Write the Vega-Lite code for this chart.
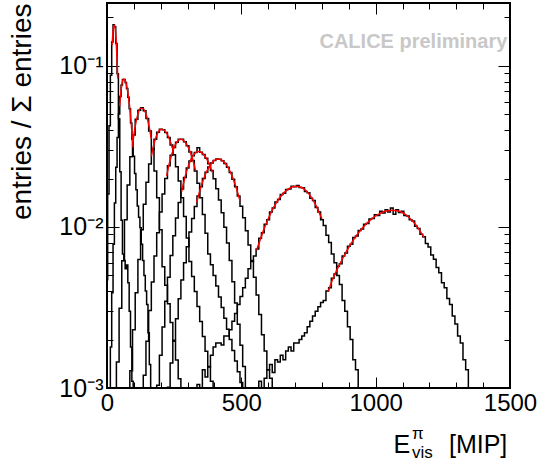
{
"$schema": "https://vega.github.io/schema/vega-lite/v6.json",
"width": 403,
"height": 385,
"autosize": {"type": "none"},
"padding": {"left": 107, "top": 3, "right": 33, "bottom": 74},
"background": "white",
"config": {"font": "Liberation Sans", "view": {"stroke": "black", "strokeWidth": 2}},
"datasets": {
"hist": [
{"h":1,"x":0,"y":0.0047},{"h":1,"x":5,"y":0.016},{"h":1,"x":10,"y":0.0425},{"h":1,"x":15,"y":0.0875},{"h":1,"x":20,"y":0.141},{"h":1,"x":25,"y":0.18},{"h":1,"x":30,"y":0.175},{"h":1,"x":35,"y":0.138},{"h":1,"x":40,"y":0.0895},{"h":1,"x":45,"y":0.047},{"h":1,"x":50,"y":0.022},{"h":1,"x":55,"y":0.011},{"h":1,"x":60,"y":0.0068},{"h":1,"x":65,"y":0.0062},{"h":1,"x":70,"y":0.0055},{"h":1,"x":75,"y":0.0058},{"h":1,"x":80,"y":0.0045},{"h":1,"x":85,"y":0.003},{"h":1,"x":90,"y":0.0018},{"h":1,"x":95,"y":0.0011},{"h":1,"x":100,"y":0.0004},
{"h":2,"x":5,"y":0.0004},{"h":2,"x":10,"y":0.0008},{"h":2,"x":15,"y":0.0018},{"h":2,"x":20,"y":0.0039},{"h":2,"x":25,"y":0.0078},{"h":2,"x":30,"y":0.0141},{"h":2,"x":35,"y":0.0235},{"h":2,"x":40,"y":0.0359},{"h":2,"x":45,"y":0.0503},{"h":2,"x":50,"y":0.0647},{"h":2,"x":55,"y":0.0762},{"h":2,"x":60,"y":0.0825},{"h":2,"x":65,"y":0.0824},{"h":2,"x":70,"y":0.0788},{"h":2,"x":75,"y":0.0725},{"h":2,"x":80,"y":0.064},{"h":2,"x":85,"y":0.0543},{"h":2,"x":90,"y":0.0443},{"h":2,"x":95,"y":0.035},{"h":2,"x":100,"y":0.0275},{"h":2,"x":105,"y":0.0215},{"h":2,"x":110,"y":0.017},{"h":2,"x":115,"y":0.0135},{"h":2,"x":120,"y":0.0115},{"h":2,"x":125,"y":0.0099},{"h":2,"x":130,"y":0.0078},{"h":2,"x":135,"y":0.0062},{"h":2,"x":140,"y":0.005},{"h":2,"x":145,"y":0.004},{"h":2,"x":150,"y":0.0033},{"h":2,"x":155,"y":0.0022},{"h":2,"x":160,"y":0.0014},{"h":2,"x":165,"y":0.0009},{"h":2,"x":170,"y":0.0004},
{"h":3,"x":30,"y":0.0004},{"h":3,"x":40,"y":0.00145},{"h":3,"x":50,"y":0.00313},{"h":3,"x":60,"y":0.00618},{"h":3,"x":70,"y":0.0111},{"h":3,"x":80,"y":0.0182},{"h":3,"x":90,"y":0.0273},{"h":3,"x":100,"y":0.0373},{"h":3,"x":110,"y":0.0466},{"h":3,"x":120,"y":0.053},{"h":3,"x":130,"y":0.055},{"h":3,"x":140,"y":0.0527},{"h":3,"x":150,"y":0.0472},{"h":3,"x":160,"y":0.0394},{"h":3,"x":170,"y":0.0307},{"h":3,"x":180,"y":0.0223},{"h":3,"x":190,"y":0.0152},{"h":3,"x":200,"y":0.0096},{"h":3,"x":210,"y":0.00567},{"h":3,"x":220,"y":0.00434},{"h":3,"x":230,"y":0.00333},{"h":3,"x":240,"y":0.00255},{"h":3,"x":250,"y":0.00195},{"h":3,"x":260,"y":0.00149},{"h":3,"x":270,"y":0.00114},{"h":3,"x":280,"y":0.0004},
{"h":4,"x":80,"y":0.0004},{"h":4,"x":90,"y":0.00128},{"h":4,"x":100,"y":0.0023},{"h":4,"x":110,"y":0.0039},{"h":4,"x":120,"y":0.00629},{"h":4,"x":130,"y":0.0096},{"h":4,"x":140,"y":0.01385},{"h":4,"x":150,"y":0.01895},{"h":4,"x":160,"y":0.0246},{"h":4,"x":170,"y":0.0302},{"h":4,"x":180,"y":0.0351},{"h":4,"x":190,"y":0.0387},{"h":4,"x":200,"y":0.0404},{"h":4,"x":210,"y":0.0402},{"h":4,"x":220,"y":0.0386},{"h":4,"x":230,"y":0.0359},{"h":4,"x":240,"y":0.0323},{"h":4,"x":250,"y":0.0281},{"h":4,"x":260,"y":0.0237},{"h":4,"x":270,"y":0.0193},{"h":4,"x":280,"y":0.0152},{"h":4,"x":290,"y":0.0116},{"h":4,"x":300,"y":0.00855},{"h":4,"x":310,"y":0.0061},{"h":4,"x":320,"y":0.00493},{"h":4,"x":330,"y":0.00398},{"h":4,"x":340,"y":0.00321},{"h":4,"x":350,"y":0.00259},{"h":4,"x":360,"y":0.00209},{"h":4,"x":370,"y":0.00169},{"h":4,"x":380,"y":0.00136},{"h":4,"x":390,"y":0.0011},{"h":4,"x":400,"y":0.0004},
{"h":5,"x":120,"y":0.0004},{"h":5,"x":130,"y":0.00072},{"h":5,"x":140,"y":0.0012},{"h":5,"x":150,"y":0.00195},{"h":5,"x":160,"y":0.00303},{"h":5,"x":170,"y":0.00456},{"h":5,"x":180,"y":0.0066},{"h":5,"x":190,"y":0.0092},{"h":5,"x":200,"y":0.01237},{"h":5,"x":210,"y":0.016},{"h":5,"x":220,"y":0.02},{"h":5,"x":230,"y":0.024},{"h":5,"x":240,"y":0.0279},{"h":5,"x":250,"y":0.0312},{"h":5,"x":260,"y":0.0336},{"h":5,"x":270,"y":0.035},{"h":5,"x":280,"y":0.035},{"h":5,"x":290,"y":0.0338},{"h":5,"x":300,"y":0.0319},{"h":5,"x":310,"y":0.0292},{"h":5,"x":320,"y":0.0259},{"h":5,"x":330,"y":0.0223},{"h":5,"x":340,"y":0.0187},{"h":5,"x":350,"y":0.0152},{"h":5,"x":360,"y":0.01196},{"h":5,"x":370,"y":0.00915},{"h":5,"x":380,"y":0.0068},{"h":5,"x":390,"y":0.00583},{"h":5,"x":400,"y":0.005},{"h":5,"x":410,"y":0.0043},{"h":5,"x":420,"y":0.00368},{"h":5,"x":430,"y":0.00316},{"h":5,"x":440,"y":0.00271},{"h":5,"x":450,"y":0.00232},{"h":5,"x":460,"y":0.002},{"h":5,"x":470,"y":0.00171},{"h":5,"x":480,"y":0.00147},{"h":5,"x":490,"y":0.00126},{"h":5,"x":500,"y":0.00108},{"h":5,"x":510,"y":0.0004},
{"h":6,"x":170,"y":0.0004},{"h":6,"x":180,"y":0.00065},{"h":6,"x":190,"y":0.00104},{"h":6,"x":200,"y":0.0016},{"h":6,"x":210,"y":0.00239},{"h":6,"x":220,"y":0.00346},{"h":6,"x":230,"y":0.00487},{"h":6,"x":240,"y":0.00665},{"h":6,"x":250,"y":0.00882},{"h":6,"x":260,"y":0.01136},{"h":6,"x":270,"y":0.0142},{"h":6,"x":280,"y":0.0172},{"h":6,"x":290,"y":0.0203},{"h":6,"x":300,"y":0.0232},{"h":6,"x":310,"y":0.0257},{"h":6,"x":320,"y":0.0277},{"h":6,"x":330,"y":0.029},{"h":6,"x":340,"y":0.031},{"h":6,"x":350,"y":0.0291},{"h":6,"x":360,"y":0.0282},{"h":6,"x":370,"y":0.0267},{"h":6,"x":380,"y":0.0247},{"h":6,"x":390,"y":0.0224},{"h":6,"x":400,"y":0.0199},{"h":6,"x":410,"y":0.0173},{"h":6,"x":420,"y":0.0147},{"h":6,"x":430,"y":0.01225},{"h":6,"x":440,"y":0.00997},{"h":6,"x":450,"y":0.00795},{"h":6,"x":460,"y":0.0062},{"h":6,"x":470,"y":0.00457},{"h":6,"x":480,"y":0.00337},{"h":6,"x":490,"y":0.00249},{"h":6,"x":500,"y":0.00184},{"h":6,"x":510,"y":0.00136},{"h":6,"x":520,"y":0.001},{"h":6,"x":530,"y":0.0004},
{"h":7,"x":210,"y":0.0004},{"h":7,"x":220,"y":0.0007},{"h":7,"x":230,"y":0.00101},{"h":7,"x":240,"y":0.00143},{"h":7,"x":250,"y":0.00198},{"h":7,"x":260,"y":0.00269},{"h":7,"x":270,"y":0.00358},{"h":7,"x":280,"y":0.00468},{"h":7,"x":290,"y":0.006},{"h":7,"x":300,"y":0.00755},{"h":7,"x":310,"y":0.0093},{"h":7,"x":320,"y":0.01127},{"h":7,"x":330,"y":0.0134},{"h":7,"x":340,"y":0.0156},{"h":7,"x":350,"y":0.0178},{"h":7,"x":360,"y":0.02},{"h":7,"x":370,"y":0.0219},{"h":7,"x":380,"y":0.0236},{"h":7,"x":390,"y":0.025},{"h":7,"x":400,"y":0.0259},{"h":7,"x":410,"y":0.0264},{"h":7,"x":420,"y":0.0263},{"h":7,"x":430,"y":0.0258},{"h":7,"x":440,"y":0.0248},{"h":7,"x":450,"y":0.0235},{"h":7,"x":460,"y":0.0218},{"h":7,"x":470,"y":0.0198},{"h":7,"x":480,"y":0.01776},{"h":7,"x":490,"y":0.0156},{"h":7,"x":500,"y":0.01345},{"h":7,"x":510,"y":0.0114},{"h":7,"x":520,"y":0.00947},{"h":7,"x":530,"y":0.00774},{"h":7,"x":540,"y":0.0062},{"h":7,"x":550,"y":0.00488},{"h":7,"x":560,"y":0.00378},{"h":7,"x":570,"y":0.00286},{"h":7,"x":580,"y":0.00214},{"h":7,"x":590,"y":0.0017},{"h":7,"x":600,"y":0.0013},{"h":7,"x":610,"y":0.00115},{"h":7,"x":620,"y":0.0009},{"h":7,"x":630,"y":0.0004},
{"h":8,"x":330,"y":0.0004},{"h":8,"x":340,"y":0.00105},{"h":8,"x":350,"y":0.00098},{"h":8,"x":360,"y":0.0013},{"h":8,"x":370,"y":0.00117},{"h":8,"x":380,"y":0.00135},{"h":8,"x":390,"y":0.0016},{"h":8,"x":400,"y":0.0018},{"h":8,"x":410,"y":0.0019},{"h":8,"x":420,"y":0.0019},{"h":8,"x":430,"y":0.00185},{"h":8,"x":440,"y":0.0021},{"h":8,"x":450,"y":0.0021},{"h":8,"x":460,"y":0.0023},{"h":8,"x":470,"y":0.0026},{"h":8,"x":480,"y":0.0029},{"h":8,"x":490,"y":0.0033},{"h":8,"x":500,"y":0.0037},{"h":8,"x":510,"y":0.0042},{"h":8,"x":520,"y":0.0048},{"h":8,"x":530,"y":0.0055},{"h":8,"x":540,"y":0.0061},{"h":8,"x":550,"y":0.0066},{"h":8,"x":560,"y":0.0073},{"h":8,"x":570,"y":0.0085},{"h":8,"x":580,"y":0.0092},{"h":8,"x":590,"y":0.0104},{"h":8,"x":600,"y":0.0111},{"h":8,"x":610,"y":0.0124},{"h":8,"x":620,"y":0.0131},{"h":8,"x":630,"y":0.0143},{"h":8,"x":640,"y":0.0148},{"h":8,"x":650,"y":0.0159},{"h":8,"x":660,"y":0.0162},{"h":8,"x":670,"y":0.0171},{"h":8,"x":680,"y":0.0172},{"h":8,"x":690,"y":0.0179},{"h":8,"x":700,"y":0.0178},{"h":8,"x":710,"y":0.0181},{"h":8,"x":720,"y":0.0176},{"h":8,"x":730,"y":0.0175},{"h":8,"x":740,"y":0.0166},{"h":8,"x":750,"y":0.0163},{"h":8,"x":760,"y":0.0151},{"h":8,"x":770,"y":0.0146},{"h":8,"x":780,"y":0.0132},{"h":8,"x":790,"y":0.0124},{"h":8,"x":800,"y":0.0111},{"h":8,"x":810,"y":0.0102},{"h":8,"x":820,"y":0.0089},{"h":8,"x":830,"y":0.008},{"h":8,"x":840,"y":0.0068},{"h":8,"x":850,"y":0.006},{"h":8,"x":860,"y":0.005},{"h":8,"x":870,"y":0.0044},{"h":8,"x":880,"y":0.0035},{"h":8,"x":890,"y":0.003},{"h":8,"x":900,"y":0.0024},{"h":8,"x":910,"y":0.002},{"h":8,"x":920,"y":0.0015},{"h":8,"x":930,"y":0.0013},{"h":8,"x":940,"y":0.00095},{"h":8,"x":950,"y":0.0004},
{"h":9,"x":560,"y":0.0004},{"h":9,"x":570,"y":0.0011},{"h":9,"x":580,"y":0.0009},{"h":9,"x":590,"y":0.00115},{"h":9,"x":600,"y":0.0013},{"h":9,"x":610,"y":0.0014},{"h":9,"x":620,"y":0.00125},{"h":9,"x":630,"y":0.0015},{"h":9,"x":640,"y":0.00145},{"h":9,"x":650,"y":0.0016},{"h":9,"x":660,"y":0.0015},{"h":9,"x":670,"y":0.0017},{"h":9,"x":680,"y":0.0018},{"h":9,"x":690,"y":0.0017},{"h":9,"x":700,"y":0.0019},{"h":9,"x":710,"y":0.0019},{"h":9,"x":720,"y":0.002},{"h":9,"x":730,"y":0.0021},{"h":9,"x":740,"y":0.0022},{"h":9,"x":750,"y":0.0024},{"h":9,"x":760,"y":0.0026},{"h":9,"x":770,"y":0.0028},{"h":9,"x":780,"y":0.003},{"h":9,"x":790,"y":0.0032},{"h":9,"x":800,"y":0.0034},{"h":9,"x":810,"y":0.0035},{"h":9,"x":820,"y":0.004},{"h":9,"x":830,"y":0.0042},{"h":9,"x":840,"y":0.0048},{"h":9,"x":850,"y":0.0051},{"h":9,"x":860,"y":0.0057},{"h":9,"x":870,"y":0.0059},{"h":9,"x":880,"y":0.0066},{"h":9,"x":890,"y":0.0069},{"h":9,"x":900,"y":0.0076},{"h":9,"x":910,"y":0.0078},{"h":9,"x":920,"y":0.0086},{"h":9,"x":930,"y":0.0088},{"h":9,"x":940,"y":0.0095},{"h":9,"x":950,"y":0.0097},{"h":9,"x":960,"y":0.0104},{"h":9,"x":970,"y":0.0105},{"h":9,"x":980,"y":0.0112},{"h":9,"x":990,"y":0.0113},{"h":9,"x":1000,"y":0.0119},{"h":9,"x":1010,"y":0.0118},{"h":9,"x":1020,"y":0.0125},{"h":9,"x":1030,"y":0.0122},{"h":9,"x":1040,"y":0.0128},{"h":9,"x":1050,"y":0.0124},{"h":9,"x":1060,"y":0.0131},{"h":9,"x":1070,"y":0.012},{"h":9,"x":1080,"y":0.0128},{"h":9,"x":1090,"y":0.0123},{"h":9,"x":1100,"y":0.0125},{"h":9,"x":1110,"y":0.0118},{"h":9,"x":1120,"y":0.0117},{"h":9,"x":1130,"y":0.0111},{"h":9,"x":1140,"y":0.0109},{"h":9,"x":1150,"y":0.0101},{"h":9,"x":1160,"y":0.0098},{"h":9,"x":1170,"y":0.009},{"h":9,"x":1180,"y":0.0087},{"h":9,"x":1190,"y":0.0079},{"h":9,"x":1200,"y":0.0075},{"h":9,"x":1210,"y":0.0067},{"h":9,"x":1220,"y":0.0063},{"h":9,"x":1230,"y":0.0056},{"h":9,"x":1240,"y":0.0052},{"h":9,"x":1250,"y":0.0045},{"h":9,"x":1260,"y":0.0042},{"h":9,"x":1270,"y":0.0036},{"h":9,"x":1280,"y":0.0033},{"h":9,"x":1290,"y":0.0028},{"h":9,"x":1300,"y":0.0025},{"h":9,"x":1310,"y":0.0021},{"h":9,"x":1320,"y":0.0019},{"h":9,"x":1330,"y":0.0015},{"h":9,"x":1340,"y":0.0013},{"h":9,"x":1350,"y":0.0004}
],
"fit": [
{"f":1,"x":19,"y":0.1346},{"f":1,"x":22,"y":0.1607},{"f":1,"x":25,"y":0.1767},{"f":1,"x":28,"y":0.1792},{"f":1,"x":31,"y":0.1673},{"f":1,"x":34,"y":0.144},{"f":1,"x":37,"y":0.1143},{"f":1,"x":40,"y":0.0836},
{"f":2,"x":47,"y":0.0562},{"f":2,"x":52,"y":0.0698},{"f":2,"x":57,"y":0.0795},{"f":2,"x":62,"y":0.083},{"f":2,"x":67,"y":0.0813},{"f":2,"x":72,"y":0.0766},{"f":2,"x":77,"y":0.0693},{"f":2,"x":82,"y":0.0603},{"f":2,"x":87,"y":0.0503},{"f":2,"x":92,"y":0.0404},{"f":2,"x":97,"y":0.0311},
{"f":3,"x":95,"y":0.0323},{"f":3,"x":105,"y":0.0422},{"f":3,"x":115,"y":0.0502},{"f":3,"x":125,"y":0.0546},{"f":3,"x":135,"y":0.0543},{"f":3,"x":145,"y":0.0503},{"f":3,"x":155,"y":0.0435},{"f":3,"x":165,"y":0.0351},
{"f":4,"x":165,"y":0.0274},{"f":4,"x":175,"y":0.0328},{"f":4,"x":185,"y":0.0371},{"f":4,"x":195,"y":0.0398},{"f":4,"x":205,"y":0.0405},{"f":4,"x":215,"y":0.0396},{"f":4,"x":225,"y":0.0374},{"f":4,"x":235,"y":0.0342},{"f":4,"x":245,"y":0.0303},
{"f":5,"x":222,"y":0.0208},{"f":5,"x":235,"y":0.026},{"f":5,"x":248,"y":0.0306},{"f":5,"x":261,"y":0.0338},{"f":5,"x":275,"y":0.035},{"f":5,"x":290,"y":0.0338},{"f":5,"x":305,"y":0.0306},{"f":5,"x":318,"y":0.0266},{"f":5,"x":330,"y":0.0223},
{"f":6,"x":278,"y":0.0166},{"f":6,"x":290,"y":0.0203},{"f":6,"x":302,"y":0.0237},{"f":6,"x":315,"y":0.0268},{"f":6,"x":328,"y":0.0288},{"f":6,"x":340,"y":0.0294},{"f":6,"x":353,"y":0.0289},{"f":6,"x":366,"y":0.0273},{"f":6,"x":379,"y":0.0249},{"f":6,"x":392,"y":0.0219},
{"f":7,"x":334,"y":0.01426},{"f":7,"x":350,"y":0.0178},{"f":7,"x":366,"y":0.0212},{"f":7,"x":382,"y":0.0239},{"f":7,"x":398,"y":0.0258},{"f":7,"x":414,"y":0.0264},{"f":7,"x":430,"y":0.0258},{"f":7,"x":446,"y":0.0241},{"f":7,"x":462,"y":0.0214},{"f":7,"x":478,"y":0.01818},{"f":7,"x":495,"y":0.01452},
{"f":8,"x":557,"y":0.00716},{"f":8,"x":580,"y":0.00929},{"f":8,"x":600,"y":0.01125},{"f":8,"x":620,"y":0.0132},{"f":8,"x":640,"y":0.01496},{"f":8,"x":660,"y":0.0164},{"f":8,"x":680,"y":0.0174},{"f":8,"x":700,"y":0.0179},{"f":8,"x":720,"y":0.0177},{"f":8,"x":740,"y":0.01684},{"f":8,"x":760,"y":0.01534},{"f":8,"x":780,"y":0.01338},{"f":8,"x":800,"y":0.0112},
{"f":9,"x":824,"y":0.004},{"f":9,"x":840,"y":0.00473},{"f":9,"x":860,"y":0.00559},{"f":9,"x":880,"y":0.00651},{"f":9,"x":900,"y":0.00747},{"f":9,"x":920,"y":0.00843},{"f":9,"x":940,"y":0.00937},{"f":9,"x":960,"y":0.01024},{"f":9,"x":980,"y":0.01103},{"f":9,"x":1000,"y":0.0117},{"f":9,"x":1020,"y":0.01221},{"f":9,"x":1040,"y":0.01255},{"f":9,"x":1060,"y":0.0127},{"f":9,"x":1080,"y":0.01262},{"f":9,"x":1100,"y":0.01225},{"f":9,"x":1120,"y":0.01162},{"f":9,"x":1140,"y":0.01076},{"f":9,"x":1160,"y":0.00973},{"f":9,"x":1180,"y":0.00859}
]
},
"layer": [
{
"data": {"name": "hist"},
"mark": {"type": "line", "interpolate": "step", "color": "black", "strokeWidth": 1.5, "clip": true},
"encoding": {
"x": {"field": "x", "type": "quantitative", "scale": {"domain": [0, 1500], "nice": false, "zero": false},
"axis": {"orient": "bottom", "values": [0,100,200,300,400,500,600,700,800,900,1000,1100,1200,1300,1400,1500], "labelExpr": "datum.value % 500 == 0 ? datum.label : ''", "format": "d", "labelFontSize": 24, "labelColor": "black", "labelFlush": false, "labelOverlap": false, "labelPadding": 14, "domain": false, "grid": false, "tickColor": "black", "tickWidth": 1, "tickSize": {"condition": {"test": "datum.value % 500 == 0", "value": -11}, "value": -6}, "title": null}},
"y": {"field": "y", "type": "quantitative", "scale": {"type": "log", "domain": [0.001, 0.246], "nice": false},
"axis": {"orient": "left", "values": [0.001,0.002,0.003,0.004,0.005,0.006,0.007,0.008,0.009,0.01,0.02,0.03,0.04,0.05,0.06,0.07,0.08,0.09,0.1,0.2], "labelExpr": "datum.value == 0.001 ? '10⁻³' : datum.value == 0.01 ? '10⁻²' : datum.value == 0.1 ? '10⁻¹' : ''", "labelFontSize": 25, "labelColor": "black", "labelFlush": false, "labelOverlap": false, "labelPadding": 16, "domain": false, "grid": false, "tickColor": "black", "tickWidth": 1, "tickSize": {"condition": {"test": "datum.value == 0.001 || datum.value == 0.01 || datum.value == 0.1", "value": -12}, "value": -6}, "title": "entries / Σ entries", "titleFontSize": 28, "titleFontWeight": "normal", "titleColor": "black", "titleAnchor": "end", "titlePadding": 22}},
"detail": {"field": "h", "type": "nominal"}
}
},
{
"data": {"name": "fit"},
"mark": {"type": "line", "interpolate": "monotone", "color": "#ff0000", "strokeWidth": 1.5, "clip": true},
"encoding": {
"x": {"field": "x", "type": "quantitative",
"axis": {"orient": "top", "values": [0,100,200,300,400,500,600,700,800,900,1000,1100,1200,1300,1400,1500], "labels": false, "domain": false, "grid": false, "tickColor": "black", "tickWidth": 1, "tickSize": {"condition": {"test": "datum.value % 500 == 0", "value": -11}, "value": -6}, "title": null}},
"y": {"field": "y", "type": "quantitative",
"axis": {"orient": "right", "values": [0.001,0.002,0.003,0.004,0.005,0.006,0.007,0.008,0.009,0.01,0.02,0.03,0.04,0.05,0.06,0.07,0.08,0.09,0.1,0.2], "labels": false, "domain": false, "grid": false, "tickColor": "black", "tickWidth": 1, "tickSize": {"condition": {"test": "datum.value == 0.001 || datum.value == 0.01 || datum.value == 0.1", "value": -12}, "value": -6}, "title": null}},
"detail": {"field": "f", "type": "nominal"}
}
},
{
"data": {"values": [{"t": "CALICE preliminary"}]},
"mark": {"type": "text", "align": "right", "baseline": "middle", "fontSize": 20, "fontWeight": "bold", "color": "#c8c8c8"},
"encoding": {"x": {"datum": 1490, "type": "quantitative", "axis": null}, "y": {"datum": 0.14, "type": "quantitative", "axis": null}, "text": {"field": "t"}}
},
{
"data": {"values": [{"t": "E"}]},
"mark": {"type": "text", "align": "left", "baseline": "alphabetic", "fontSize": 25, "color": "black", "clip": false},
"encoding": {"x": {"datum": 1066, "type": "quantitative", "axis": null}, "y": {"datum": 0.000394, "type": "quantitative", "axis": null}, "text": {"field": "t"}}
},
{
"data": {"values": [{"t": "π"}]},
"mark": {"type": "text", "align": "left", "baseline": "alphabetic", "fontSize": 17, "color": "black", "clip": false},
"encoding": {"x": {"datum": 1135, "type": "quantitative", "axis": null}, "y": {"datum": 0.00048, "type": "quantitative", "axis": null}, "text": {"field": "t"}}
},
{
"data": {"values": [{"t": "vis"}]},
"mark": {"type": "text", "align": "left", "baseline": "alphabetic", "fontSize": 17, "color": "black", "clip": false},
"encoding": {"x": {"datum": 1135, "type": "quantitative", "axis": null}, "y": {"datum": 0.000365, "type": "quantitative", "axis": null}, "text": {"field": "t"}}
},
{
"data": {"values": [{"t": "[MIP]"}]},
"mark": {"type": "text", "align": "right", "baseline": "alphabetic", "fontSize": 25, "color": "black", "clip": false},
"encoding": {"x": {"datum": 1490, "type": "quantitative", "axis": null}, "y": {"datum": 0.000394, "type": "quantitative", "axis": null}, "text": {"field": "t"}}
}
],
"resolve": {"axis": {"x": "independent", "y": "independent"}}
}
